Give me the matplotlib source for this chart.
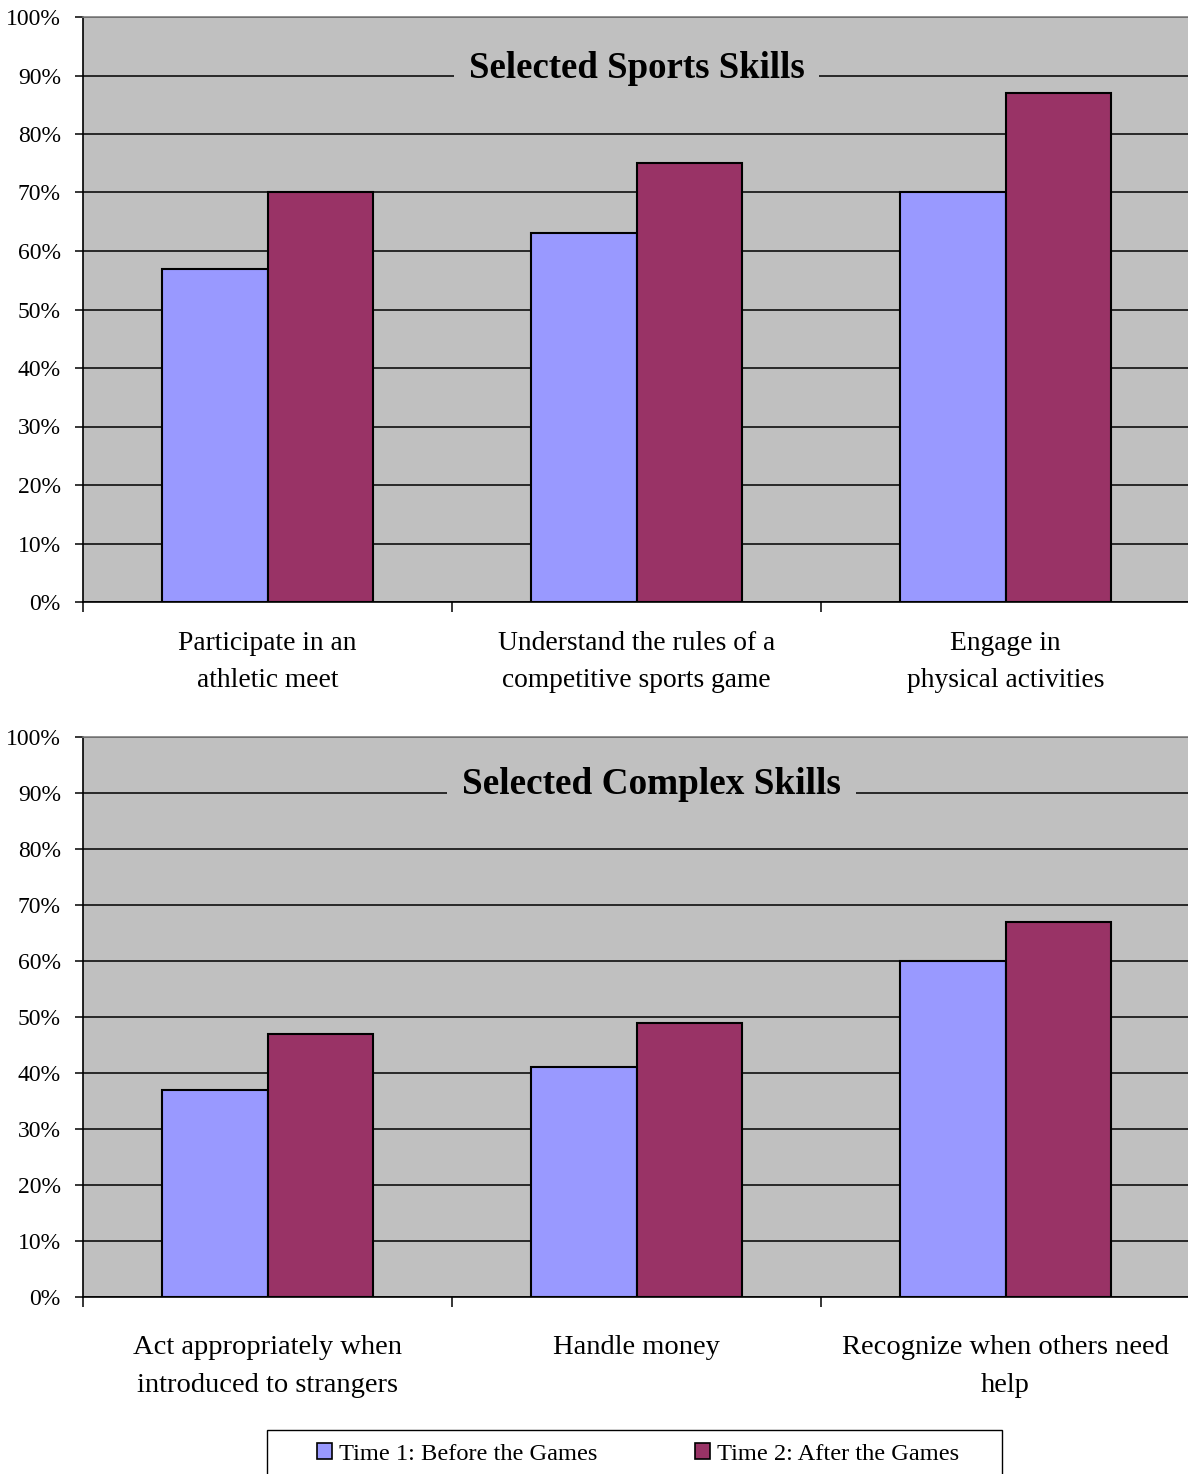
import matplotlib
matplotlib.use("Agg")
import matplotlib.pyplot as plt
from matplotlib.patches import Patch, Rectangle
import numpy as np

plt.rcParams['font.family'] = ['Liberation Serif', 'DejaVu Serif']

# Data
sports_categories = ["Participate in an\nathletic meet",
                     "Understand the rules of a\ncompetitive sports game",
                     "Engage in\nphysical activities"]
sports_before = [57, 63, 70]
sports_after = [70, 75, 87]

complex_categories = ["Act appropriately when\nintroduced to strangers",
                      "Handle money",
                      "Recognize when others need\nhelp"]
complex_before = [37, 41, 60]
complex_after = [47, 49, 67]

series_labels = ["Time 1: Before the Games", "Time 2: After the Games"]
yticks = [0, 10, 20, 30, 40, 50, 60, 70, 80, 90, 100]

C_BEFORE = "#9999FF"
C_AFTER = "#993366"
C_PLOT = "#C0C0C0"

W, H = 1188, 1474
fig = plt.figure(figsize=(W / 100, H / 100), dpi=100)
fig.patch.set_facecolor("white")


def px_axes(left, top, right, bottom):
    return fig.add_axes([left / W, 1 - bottom / H, (right - left) / W, (bottom - top) / H])


def draw_panel(ax, title, cats, before, after, title_x, title_y, title_size,
               cat_size, cat_spacing, cat_pad):
    x = np.arange(len(cats))
    bw = 1 / 3.5
    ax.set_facecolor(C_PLOT)
    ax.bar(x - bw / 2, before, bw, color=C_BEFORE, edgecolor="black", linewidth=1.5, zorder=3)
    ax.bar(x + bw / 2, after, bw, color=C_AFTER, edgecolor="black", linewidth=1.5, zorder=3)
    ax.set_xlim(-0.5, 2.5)
    ax.set_ylim(0, 100)
    ax.set_yticks(yticks)
    ax.set_yticklabels([f"{v}%" for v in yticks], fontsize=17)
    ax.yaxis.grid(True, color="black", linewidth=1.1, zorder=1)
    ax.set_axisbelow(True)
    ax.set_xticks(x)
    ax.set_xticklabels(cats, fontsize=cat_size, linespacing=cat_spacing)
    ax.tick_params(axis="x", which="major", length=0, pad=cat_pad)
    ax.set_xticks([-0.5, 0.5, 1.5], minor=True)
    ax.tick_params(axis="x", which="minor", length=7, width=1.1, direction="out", color="black")
    ax.tick_params(axis="y", length=6, width=1.1, direction="out", pad=10)
    ax.spines["right"].set_visible(False)
    ax.spines["top"].set_color("#808080")
    ax.spines["top"].set_linewidth(1.2)
    ax.spines["left"].set_linewidth(1.2)
    ax.spines["bottom"].set_linewidth(1.2)
    ax.text(title_x, title_y, title, ha="center", va="center", fontsize=title_size,
            fontweight="bold",
            bbox=dict(boxstyle="square,pad=0.4", facecolor=C_PLOT, edgecolor="none"),
            zorder=2)


ax1 = px_axes(83, 17, 1190, 602)
draw_panel(ax1, "Selected Sports Skills", sports_categories, sports_before, sports_after,
           1.0, 91.2, 26.5, 19.8, 1.6, 21)

ax2 = px_axes(83, 737, 1190, 1297)
draw_panel(ax2, "Selected Complex Skills", complex_categories, complex_before, complex_after,
           1.04, 91.6, 26.8, 20.5, 1.7, 27.5)

# Legend box, open at the bottom edge of the figure
fig.patches.append(Rectangle((267 / W, -0.01), 735 / W, 0.01 + (1474 - 1430) / H,
                             transform=fig.transFigure, facecolor="white",
                             edgecolor="black", linewidth=1.0))
handles = [Patch(facecolor=C_BEFORE, edgecolor="black", linewidth=1.2),
           Patch(facecolor=C_AFTER, edgecolor="black", linewidth=1.2)]
fig.legend(handles, series_labels, loc="center", ncol=2, frameon=False,
           bbox_to_anchor=(638 / W, 1 - 1454 / H), fontsize=17.6,
           handlelength=0.6, handleheight=0.6, handletextpad=0.3,
           columnspacing=4.0)

fig.savefig("out.png", dpi=100)
